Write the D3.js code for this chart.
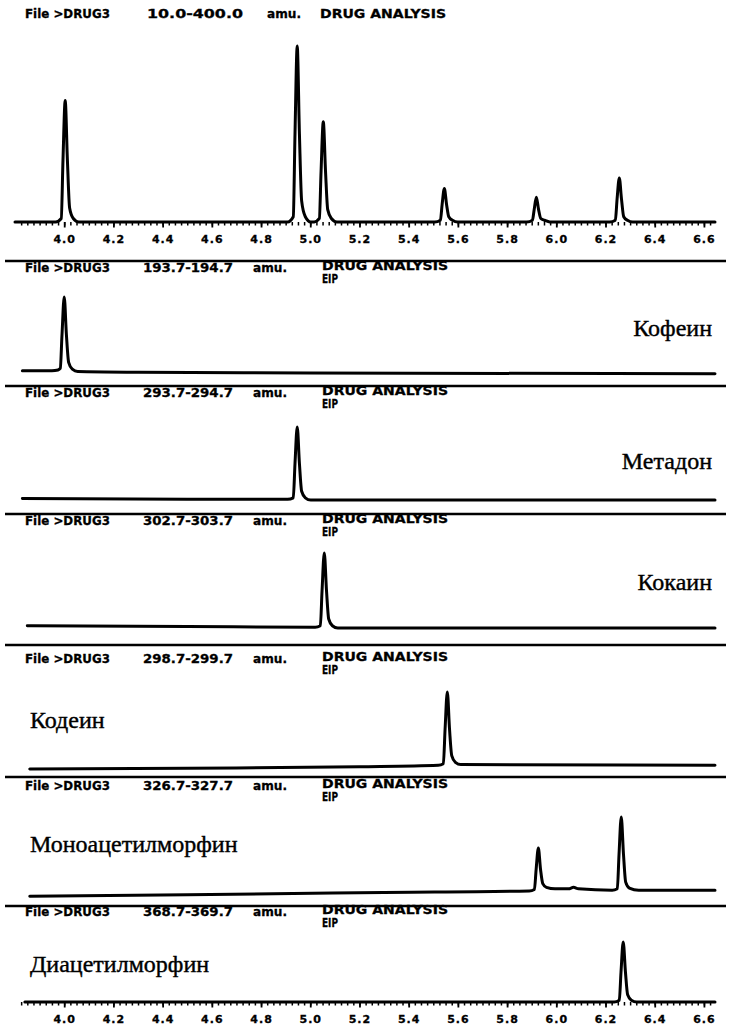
<!DOCTYPE html>
<html><head><meta charset="utf-8">
<script src="https://cdn.jsdelivr.net/npm/d3@7"></script>
<style>body{margin:0;background:#fff}svg{display:block}</style>
</head><body>
<svg id="chart" width="731" height="1026"></svg>
<script>
// Retention-time axis labels (minutes)
const tickLabels = ["4.0","4.2","4.4","4.6","4.8","5.0","5.2","5.4","5.6","5.8","6.0","6.2","6.4","6.6"];

// Header texts
const fileName = "File >DRUG3";
const ticRange = "10.0-400.0";
const massRanges = ["193.7-194.7","293.7-294.7","302.7-303.7","298.7-299.7","326.7-327.7","368.7-369.7"];
const compounds = ["Кофеин","Метадон","Кокаин","Кодеин","Моноацетилморфин","Диацетилморфин"];

// Total ion chromatogram: [retention time, relative intensity]
const ticTrace = [
  [3.80,0],
  [3.965,0],[3.988,2],[3.995,35],[4.004,69],[4.013,35],[4.022,8],[4.037,2],[4.059,0],
  [4.908,0],[4.931,3],[4.938,50],[4.947,100],[4.956,50],[4.965,12],[4.980,3],[5.002,0],
  [5.016,0],[5.037,2],[5.044,29],[5.053,57],[5.062,29],[5.071,7],[5.086,2],[5.108,0],
  [5.506,0],[5.529,1],[5.536,10],[5.545,19],[5.554,10],[5.563,3],[5.578,1],[5.600,0],
  [5.880,0],[5.903,1],[5.910,7],[5.919,14],[5.928,7],[5.937,2],[5.952,1],[5.974,0],
  [6.217,0],[6.240,1],[6.247,13],[6.256,25],[6.265,13],[6.274,3],[6.289,1],[6.311,0],
  [6.645,0]
];

// Extracted ion profiles
const caffeineTrace = [
  [3.83,3],[3.95,3],[3.975,4],[3.984,6],[3.991,50],[4.000,100],[4.009,50],[4.018,14],[4.033,5],[4.055,2],
  [4.30,1],[5.00,0],[6.645,-1]
];
const methadoneTrace = [
  [3.83,2],[4.50,1],[4.908,1],[4.931,3],[4.938,50],[4.947,100],[4.956,50],[4.965,12],[4.980,3],[5.002,0],
  [6.645,0]
];
const cocaineTrace = [
  [3.85,3],[4.50,2],[5.020,1],[5.041,3],[5.048,50],[5.057,100],[5.066,50],[5.075,12],[5.090,3],[5.112,0],
  [6.645,0]
];
const codeineTrace = [
  [3.86,-4],[4.50,-3],[5.20,-1],[5.520,1],[5.541,3],[5.548,50],[5.557,100],[5.566,50],[5.575,14],[5.590,5],[5.612,2],
  [6.645,1]
];
const monoacetylmorphineTrace = [
  [3.86,-7],[4.50,-5],[5.30,-2],[5.890,0],[5.911,2],[5.918,29],[5.927,58],[5.936,29],[5.945,10],[5.960,5],[5.995,3],
  [6.050,3],[6.070,5],[6.090,3],
  [6.227,1],[6.248,3],[6.255,50],[6.264,100],[6.273,50],[6.282,12],[6.297,4],[6.335,1],
  [6.645,1]
];
const diacetylmorphineTrace = [
  [3.84,0],[5.00,0],[6.235,0],[6.256,3],[6.263,50],[6.272,100],[6.281,50],[6.290,12],[6.305,3],[6.327,0],
  [6.645,0]
];

const ionTraces = [caffeineTrace, methadoneTrace, cocaineTrace, codeineTrace, monoacetylmorphineTrace, diacetylmorphineTrace];

// ---- layout ----
const svg = d3.select("#chart");
const x = d3.scaleLinear().domain([3.8, 6.645]).range([15, 715]);

const ticPanel = {base: 222, top: 46};
const ionPanels = [
  {base: 373, top: 297, sep: 261, head: 272, labelX: 712, labelY: 336, anchor: "end"},
  {base: 500, top: 427, sep: 386, head: 397, labelX: 712, labelY: 469, anchor: "end"},
  {base: 628, top: 553, sep: 514, head: 525, labelX: 712, labelY: 590, anchor: "end"},
  {base: 766, top: 692, sep: 645, head: 663, labelX: 30,  labelY: 728, anchor: "start"},
  {base: 891, top: 817, sep: 777, head: 790, labelX: 30,  labelY: 852, anchor: "start"},
  {base: 1002, top: 942, sep: 906, head: 916, labelX: 30, labelY: 972, anchor: "start"}
];

const headFont = "'DejaVu Sans', sans-serif";

function header(y, range, rangeW, amuX, drugX, withEip) {
  const g = svg.append("g").attr("font-family", headFont).attr("font-weight", "bold")
    .attr("font-size", 12.5).attr("fill", "#000").attr("stroke", "#000").attr("stroke-width", 0.3);
  const put = (t, xx, yy, w) => g.append("text").attr("x", xx).attr("y", yy).text(t)
    .attr("textLength", w).attr("lengthAdjust", "spacingAndGlyphs");
  put(fileName, 25, y, 85);
  put(range, withEip ? 143 : 147, y, rangeW);
  put("amu.", amuX, y, 34);
  put("DRUG ANALYSIS", drugX, withEip ? y - 2 : y, 126);
  if (withEip) put("EIP", drugX, y + 11, 16);
}

function trace(data, yScale) {
  const line = d3.line().x(d => x(d[0])).y(d => yScale(d[1])).curve(d3.curveMonotoneX);
  svg.append("path").datum(data).attr("d", line)
    .attr("fill", "none").attr("stroke", "#000").attr("stroke-width", 3)
    .attr("stroke-linejoin", "round").attr("stroke-linecap", "round");
}

function rtAxis(y) {
  const major = tickLabels.map(Number);
  const minor = d3.range(3.825, 6.645, 0.025);
  svg.append("g").attr("transform", `translate(0,${y})`)
    .call(d3.axisBottom(x).tickValues(minor).tickSize(3.5).tickFormat(""))
    .call(g => g.select(".domain").remove())
    .call(g => g.selectAll("line").attr("stroke-width", 1.5));
  svg.append("g").attr("transform", `translate(0,${y})`)
    .call(d3.axisBottom(x).tickValues(major).tickSize(5.5).tickPadding(8)
      .tickFormat((d, i) => tickLabels[i]))
    .call(g => g.select(".domain").remove())
    .call(g => g.selectAll("line").attr("stroke-width", 1.8))
    .call(g => g.selectAll("text").attr("font-family", headFont).attr("font-weight", "bold")
      .attr("font-size", 11).attr("fill", "#000").attr("stroke", "#000").attr("stroke-width", 0.3)
      .attr("letter-spacing", 1));
}

// Total ion chromatogram
header(18, ticRange, 96, 267, 320, false);
const yTic = d3.scaleLinear().domain([0, 100]).range([ticPanel.base, ticPanel.top]);
rtAxis(ticPanel.base);
trace(ticTrace, yTic);

// Extracted ion profiles
ionPanels.forEach((p, i) => {
  svg.append("line").attr("x1", 5).attr("x2", 726).attr("y1", p.sep).attr("y2", p.sep)
    .attr("stroke", "#000").attr("stroke-width", 2.5);
  header(p.head, massRanges[i], 90, 253, 322, true);
  const yS = d3.scaleLinear().domain([0, 100]).range([p.base, p.top]);
  if (i === ionPanels.length - 1) rtAxis(p.base);
  trace(ionTraces[i], yS);
  svg.append("text").attr("x", p.labelX).attr("y", p.labelY).attr("text-anchor", p.anchor)
    .attr("font-family", "'Liberation Serif', serif").attr("font-size", 24).attr("fill", "#000")
    .attr("stroke", "#000").attr("stroke-width", 0.4)
    .text(compounds[i]);
});
</script>
</body></html>
